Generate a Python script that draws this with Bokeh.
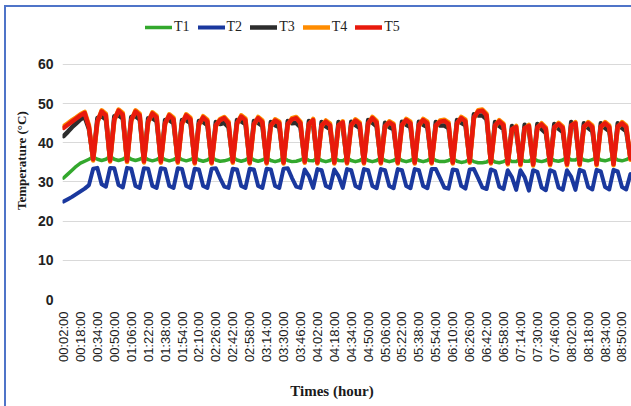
import math
from bokeh.plotting import figure
from bokeh.models import Range1d, FixedTicker, Legend, LegendItem, ColumnDataSource
from bokeh.embed import file_html
from bokeh.resources import INLINE

# ---- data (minutes since 00:00, sampled every 4 min) ----
minutes = list(range(2, 539, 4))

t1 = [31.0, 32.0, 33.0, 34.0, 34.8, 35.3, 35.8,
      36.4, 35.8, 35.5, 35.8,
      36.5, 35.8, 35.5, 35.8,
      36.5, 35.8, 35.5, 35.8,
      36.4, 35.7, 35.4, 35.7,
      36.4, 35.7, 35.4, 35.7,
      36.4, 35.7, 35.4, 35.7,
      36.3, 35.6, 35.3, 35.6,
      36.3, 35.6, 35.3, 35.4, 35.7,
      36.3, 35.6, 35.3, 35.6,
      36.3, 35.6, 35.3, 35.6,
      36.2, 35.5, 35.2, 35.5,
      36.2, 35.5, 35.2, 35.3, 35.6,
      36.2, 35.5, 35.4,
      36.2, 35.5, 35.2, 35.5,
      36.2, 35.5, 35.4,
      36.2, 35.5, 35.2, 35.5,
      36.2, 35.5, 35.2, 35.5,
      36.2, 35.5, 35.2, 35.5,
      36.2, 35.5, 35.2, 35.5,
      36.2, 35.5, 35.2, 35.5,
      36.2, 35.5, 35.2, 35.2, 35.5,
      36.0, 35.3, 35.0, 35.2,
      35.9, 35.2, 34.9, 34.9, 35.1,
      35.8, 35.1, 34.9, 35.2,
      35.9, 35.2, 35.2,
      36.0, 35.3, 35.3,
      36.1, 35.4, 35.2, 35.5,
      36.2, 35.5, 35.3, 35.6,
      36.3, 35.6, 35.6,
      36.3, 35.6, 35.4, 35.7,
      36.3, 35.6, 35.4, 35.7,
      36.3, 35.6, 35.4, 35.7,
      36.3]

t2 = [25.0, 25.6, 26.2, 26.9, 27.6, 28.3, 29.2,
      33.4, 33.6, 29.4, 28.8,
      33.6, 33.5, 29.2, 28.6,
      33.6, 33.4, 29.0, 28.5,
      33.5, 33.4, 29.0, 28.5,
      33.5, 33.3, 29.0, 28.5,
      33.5, 33.3, 29.0, 28.5,
      33.4, 33.2, 29.0, 28.5,
      33.4, 33.5, 31.0, 28.8, 28.5,
      33.4, 33.2, 29.0, 28.5,
      33.4, 33.2, 29.0, 28.5,
      33.4, 33.2, 29.0, 28.5,
      33.4, 33.5, 31.0, 28.8, 28.5,
      33.2, 31.5, 28.5,
      33.3, 33.0, 29.0, 28.5,
      33.2, 31.5, 28.5,
      33.3, 33.0, 29.0, 28.4,
      33.3, 33.0, 29.0, 28.4,
      33.3, 33.0, 29.0, 28.4,
      33.3, 33.0, 29.0, 28.4,
      33.3, 33.0, 29.0, 28.4,
      33.3, 33.3, 31.0, 28.6, 28.3,
      33.2, 33.0, 29.0, 28.3,
      33.2, 33.3, 31.0, 28.6, 28.2,
      33.2, 32.8, 28.8, 28.2,
      33.0, 31.2, 28.0,
      33.0, 31.2, 27.8,
      33.0, 32.6, 28.6, 27.9,
      33.0, 32.6, 28.6, 28.0,
      33.0, 31.3, 28.0,
      33.1, 32.7, 28.7, 28.1,
      33.1, 32.7, 28.7, 28.1,
      33.1, 32.7, 28.7, 28.1,
      32.0]

t3 = [41.7, 42.8, 44.0, 45.0, 46.0, 46.6, 43.5,
      35.9, 46.3, 46.8, 46.0,
      35.7, 46.8, 47.0, 46.2,
      35.6, 46.6, 46.8, 46.0,
      35.5, 46.3, 46.3, 45.5,
      35.4, 45.8, 45.8, 45.0,
      35.4, 45.8, 45.8, 45.0,
      35.2, 45.6, 45.3, 44.5,
      35.2, 45.3, 44.8, 45.1, 44.0,
      35.4, 45.8, 45.5, 44.8,
      35.2, 45.6, 45.1, 44.3,
      35.2, 45.3, 44.5, 44.0,
      35.2, 45.6, 45.0, 45.1, 44.0,
      35.4, 45.6, 44.6,
      35.2, 45.3, 44.2, 43.5,
      35.2, 45.3, 44.0,
      35.2, 45.4, 44.5, 43.8,
      35.2, 45.8, 45.1, 44.2,
      35.2, 45.1, 44.0, 43.5,
      35.2, 45.4, 44.6, 44.0,
      35.2, 45.4, 44.6, 44.0,
      35.2, 45.3, 44.4, 44.4, 43.8,
      35.2, 45.8, 45.1, 44.5,
      35.4, 47.3, 47.0, 47.0, 46.0,
      35.2, 45.3, 44.3, 43.5,
      35.0, 44.3, 42.8,
      34.8, 44.6, 43.1,
      34.7, 44.8, 43.5, 42.5,
      34.8, 44.8, 43.6, 42.8,
      34.8, 45.3, 43.8,
      34.8, 45.0, 43.8, 43.0,
      34.8, 45.0, 43.8, 43.0,
      34.8, 45.0, 43.8, 43.0,
      36.2]

t4 = [44.2, 45.0, 45.8, 46.5, 47.3, 47.9, 44.5,
      35.5, 45.2, 48.3, 47.4,
      35.2, 45.7, 48.5, 47.6,
      35.1, 45.5, 48.3, 47.4,
      35.0, 45.2, 47.8, 46.9,
      34.9, 44.7, 47.3, 46.4,
      34.9, 44.7, 47.3, 46.4,
      34.7, 44.5, 46.8, 45.9,
      34.7, 44.2, 46.1, 46.6, 45.4,
      34.9, 44.7, 47.0, 46.2,
      34.7, 44.5, 46.6, 45.7,
      34.7, 44.2, 46.0, 45.4,
      34.7, 44.5, 46.3, 46.6, 45.4,
      34.9, 44.5, 46.1,
      34.7, 44.2, 45.7, 44.9,
      34.7, 44.2, 45.5,
      34.7, 44.3, 46.0, 45.2,
      34.7, 44.7, 46.6, 45.6,
      34.7, 44.0, 45.5, 44.9,
      34.7, 44.3, 46.1, 45.4,
      34.7, 44.3, 46.1, 45.4,
      34.7, 44.2, 45.7, 45.9, 45.2,
      34.7, 44.7, 46.6, 45.9,
      34.9, 46.2, 48.3, 48.5, 47.4,
      34.7, 44.2, 45.8, 44.9,
      34.5, 43.2, 44.3,
      34.3, 43.5, 44.6,
      34.2, 43.7, 45.0, 43.9,
      34.3, 43.7, 45.1, 44.2,
      34.3, 44.2, 45.3,
      34.3, 43.9, 45.3, 44.4,
      34.3, 43.9, 45.3, 44.4,
      34.3, 43.9, 45.3, 44.4,
      35.7]

t5 = [43.8, 44.6, 45.4, 46.2, 47.0, 47.6, 44.0,
      35.8, 45.5, 48.0, 47.0,
      35.5, 46.0, 48.2, 47.2,
      35.4, 45.8, 48.0, 47.0,
      35.3, 45.5, 47.5, 46.5,
      35.2, 45.0, 47.0, 46.0,
      35.2, 45.0, 47.0, 46.0,
      35.0, 44.8, 46.5, 45.5,
      35.0, 44.5, 45.8, 46.3, 45.0,
      35.2, 45.0, 46.7, 45.8,
      35.0, 44.8, 46.3, 45.3,
      35.0, 44.5, 45.7, 45.0,
      35.0, 44.8, 46.0, 46.3, 45.0,
      35.2, 44.8, 45.8,
      35.0, 44.5, 45.4, 44.5,
      35.0, 44.5, 45.2,
      35.0, 44.6, 45.7, 44.8,
      35.0, 45.0, 46.3, 45.2,
      35.0, 44.3, 45.2, 44.5,
      35.0, 44.6, 45.8, 45.0,
      35.0, 44.6, 45.8, 45.0,
      35.0, 44.5, 45.4, 45.6, 44.8,
      35.0, 45.0, 46.3, 45.5,
      35.2, 46.5, 48.0, 48.2, 47.0,
      35.0, 44.5, 45.5, 44.5,
      34.8, 43.5, 44.0,
      34.6, 43.8, 44.3,
      34.5, 44.0, 44.7, 43.5,
      34.6, 44.0, 44.8, 43.8,
      34.6, 44.5, 45.0,
      34.6, 44.2, 45.0, 44.0,
      34.6, 44.2, 45.0, 44.0,
      34.6, 44.2, 45.0, 44.0,
      36.0]

series_names = ["T1", "T2", "T3", "T4", "T5"]
series_colors = ["#33a82d", "#1a389e", "#2d2d2d", "#ff8c00", "#e81a0c"]
series_widths = [3.5, 4, 4.5, 4.5, 4.5]

x_tick_labels = ["00:02:00", "00:18:00", "00:34:00", "00:50:00", "01:06:00", "01:22:00",
                 "01:38:00", "01:54:00", "02:10:00", "02:26:00", "02:42:00", "02:58:00",
                 "03:14:00", "03:30:00", "03:46:00", "04:02:00", "04:18:00", "04:34:00",
                 "04:50:00", "05:06:00", "05:22:00", "05:38:00", "05:54:00", "06:10:00",
                 "06:26:00", "06:42:00", "06:58:00", "07:14:00", "07:30:00", "07:46:00",
                 "08:02:00", "08:18:00", "08:34:00", "08:50:00"]
y_ticks = [0, 10, 20, 30, 40, 50, 60]
x_title = "Times (hour)"
y_title = "Temperature  (°C)"

tick_minutes = [int(s[0:2]) * 60 + int(s[3:5]) for s in x_tick_labels]

source = ColumnDataSource(data=dict(t=minutes, T1=t1, T2=t2, T3=t3, T4=t4, T5=t5))

# frame spans 18..299 px vertically; 0..60 occupies 64..299 px, the band above holds the legend
p = figure(width=631, height=406, output_backend="svg", toolbar_location=None,
           x_range=Range1d(1, 539), y_range=Range1d(0, 71.74),
           min_border_left=62, min_border_right=0, min_border_top=18, min_border_bottom=107)
p.styles = {"background-color": "white",
            "background-image": "linear-gradient(#4f74c8,#4f74c8), linear-gradient(#4f74c8,#4f74c8)",
            "background-size": "2px 100%, 100% 2px",
            "background-position": "4px 5px, 4px 5px",
            "background-repeat": "no-repeat"}
p.outline_line_color = None
p.background_fill_color = "white"
p.border_fill_alpha = 0
p.xgrid.visible = False
p.ygrid.grid_line_color = "#d9d9d9"
p.ygrid.grid_line_width = 1

renderers = []
for name, col, lw in zip(series_names, series_colors, series_widths):
    r = p.line("t", name, source=source, line_color=col, line_width=lw,
               line_join="round", line_cap="round")
    renderers.append(r)

p.xaxis.ticker = FixedTicker(ticks=tick_minutes)
p.xaxis.major_label_overrides = {m: lab for m, lab in zip(tick_minutes, x_tick_labels)}
p.xaxis.major_label_orientation = math.pi / 2
p.xaxis.major_label_text_font = "Liberation Sans"
p.xaxis.major_label_text_font_size = "13px"
p.xaxis.major_label_text_color = "#1a1a1a"
p.xaxis.major_label_standoff = 12
p.xaxis.axis_label = x_title + "\u00a0" * 8
p.xaxis.axis_label_standoff = 18
p.xaxis.axis_label_text_font_size = "15px"

p.yaxis.ticker = FixedTicker(ticks=y_ticks)
p.yaxis.major_label_text_font = "Liberation Sans"
p.yaxis.major_label_text_font_style = "bold"
p.yaxis.major_label_text_font_size = "14px"
p.yaxis.major_label_text_color = "#222222"
p.yaxis.major_label_standoff = 9
p.yaxis.axis_label = y_title
p.yaxis.axis_label_standoff = 6
p.yaxis.axis_label_text_font_size = "13px"

for ax in (p.xaxis, p.yaxis):
    ax.axis_line_color = None
    ax.major_tick_line_color = None
    ax.minor_tick_line_color = None
    ax.major_tick_out = 0
    ax.major_tick_in = 0
    ax.axis_label_text_font = "Liberation Serif"
    ax.axis_label_text_font_style = "bold"
    ax.axis_label_text_color = "#1a1a1a"

legend = Legend(items=[LegendItem(label=n, renderers=[r]) for n, r in zip(series_names, renderers)],
                location=(83, 264), orientation="horizontal",
                glyph_width=27, glyph_height=14, label_height=14, label_width=14,
                label_standoff=2, spacing=8, padding=0, margin=0,
                border_line_color=None, background_fill_alpha=0,
                label_text_font="Liberation Serif", label_text_font_size="14px",
                label_text_color="#222222")
p.add_layout(legend, "center")

open("out.html", "w").write(file_html(p, INLINE))
